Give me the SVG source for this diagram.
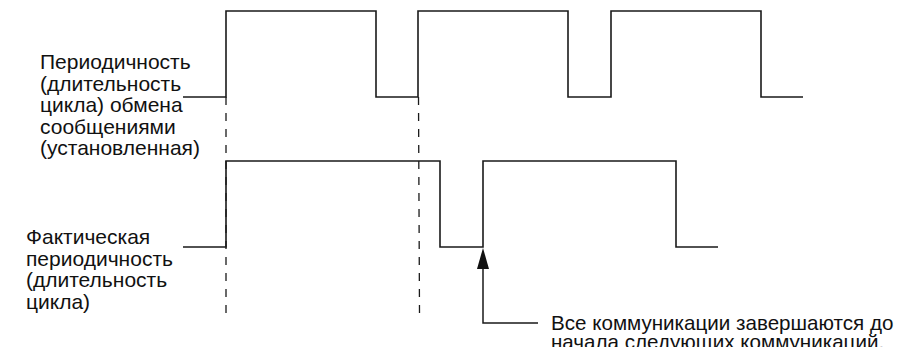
<svg xmlns="http://www.w3.org/2000/svg" width="907" height="347" viewBox="0 0 907 347">
<style>
.wave{fill:none;stroke:#1a1a1a;stroke-width:1.6;stroke-linejoin:miter}
.dash{fill:none;stroke:#1a1a1a;stroke-width:1.3;stroke-dasharray:8 8}
.lead{fill:none;stroke:#1a1a1a;stroke-width:1.5}
.lbl{font-family:"Liberation Sans",Arial,sans-serif;font-size:21px;fill:#111}
.note{font-size:20.6px}
</style>
<rect width="907" height="347" fill="#ffffff"/>
<g id="set-wave">
<path class="wave" d="M183,97 H226 V11 H376 V97 H418 V11 H568 V97 H611 V11 H761 V97 H803"/>
</g>
<g id="actual-wave">
<path class="wave" d="M183,247 H226 V161 H440 V247 H483 V161 H676 V247 H718"/>
</g>
<g id="guides">
<line class="dash" x1="226" y1="97" x2="226" y2="313"/>
<line class="dash" x1="418.5" y1="97" x2="419.5" y2="313"/>
</g>
<g id="connectors">
<path class="lead" d="M538,323 H483 V268"/>
<polygon points="483,248 477,269 489,269" fill="#111"/>
</g>
<g id="label-set">
<text class="lbl" x="40" y="69">Периодичность</text>
<text class="lbl" x="40" y="90.5">(длительность</text>
<text class="lbl" x="40" y="112">цикла) обмена</text>
<text class="lbl" x="40" y="133.5">сообщениями</text>
<text class="lbl" x="40" y="155">(установленная)</text>
</g>
<g id="label-actual">
<text class="lbl" x="26" y="244">Фактическая</text>
<text class="lbl" x="26" y="265.5">периодичность</text>
<text class="lbl" x="26" y="287">(длительность</text>
<text class="lbl" x="26" y="308.5">цикла)</text>
</g>
<g id="note">
<text class="lbl note" x="551" y="330">Все коммуникации завершаются до</text>
<text class="lbl note" x="551" y="349">начала следующих коммуникаций.</text>
</g>
</svg>
